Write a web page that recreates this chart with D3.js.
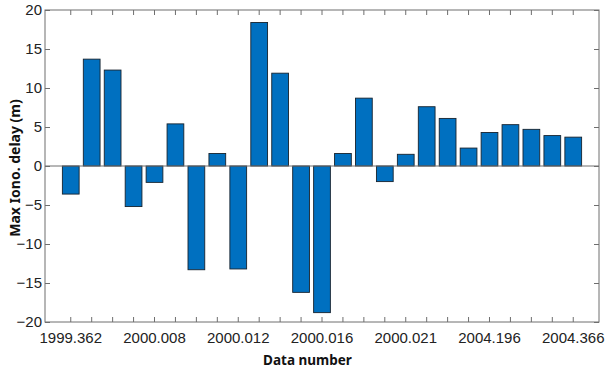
<!DOCTYPE html>
<html>
<head>
<meta charset="utf-8">
<script src="https://cdn.jsdelivr.net/npm/d3@7"></script>
<style>
  body { margin: 0; background: #fff; }
  svg { font-family: "Noto Sans", "Open Sans", sans-serif; }
</style>
</head>
<body>
<div id="chart"></div>
<script>
// data
var dataIndex = d3.range(1, 26);
var maxDelay = [-3.6, 13.7, 12.3, -5.2, -2.1, 5.4, -13.3, 1.6, -13.2, 18.4,
                11.9, -16.2, -18.8, 1.6, 8.7, -2.0, 1.5, 7.6, 6.1, 2.3,
                4.3, 5.3, 4.7, 3.9, 3.7];
var xTickLabels = ["1999.362", "", "", "", "2000.008", "", "", "", "2000.012", "", "", "",
                   "2000.016", "", "", "", "2000.021", "", "", "", "2004.196", "", "", "", "2004.366"];
var yTicks = [-20, -15, -10, -5, 0, 5, 10, 15, 20];

var W = 606, H = 368;
var margin = {top: 10, right: 7, bottom: 46, left: 45},
    width = W - margin.left - margin.right,
    height = H - margin.top - margin.bottom;

var svg = d3.select("#chart")
  .append("svg")
    .attr("width", W)
    .attr("height", H)
  .append("g")
    .attr("transform", "translate(" + margin.left + "," + margin.top + ")");

var x = d3.scaleBand()
  .domain(dataIndex)
  .range([0, width])
  .paddingInner(0.2)
  .paddingOuter(0.83);

var y = d3.scaleLinear()
  .domain([-20, 20])
  .range([height, 0]);

var boxColor = "#6e6e6e";

// bars
svg.selectAll("rect.bar")
  .data(maxDelay)
  .enter()
  .append("rect")
    .attr("class", "bar")
    .attr("x", function(d, i) { return x(dataIndex[i]); })
    .attr("y", function(d) { return y(Math.max(0, d)); })
    .attr("width", x.bandwidth())
    .attr("height", function(d) { return Math.abs(y(d) - y(0)); })
    .attr("fill", "#0070c0")
    .attr("stroke", "#17232e")
    .attr("stroke-width", 0.9);

// zero line
svg.append("line")
  .attr("x1", 0).attr("x2", width)
  .attr("y1", y(0)).attr("y2", y(0))
  .attr("stroke", boxColor)
  .attr("stroke-width", 1);

// axes (ticks pointing inward)
function styleAxis(g) {
  g.select(".domain").remove();
  g.selectAll(".tick line").attr("stroke", boxColor);
  g.selectAll(".tick text")
    .attr("fill", "#222")
    .style("font-size", "15px");
}

svg.append("g")
  .attr("transform", "translate(0," + height + ")")
  .call(d3.axisBottom(x)
    .tickSize(-5)
    .tickPadding(10)
    .tickFormat(function(d, i) { return xTickLabels[i]; }))
  .call(styleAxis);

svg.append("g")
  .call(d3.axisTop(x).tickSize(-5).tickFormat(""))
  .call(styleAxis);

svg.append("g")
  .call(d3.axisLeft(y)
    .tickValues(yTicks)
    .tickSize(-5)
    .tickPadding(3))
  .call(styleAxis);

svg.append("g")
  .attr("transform", "translate(" + width + ",0)")
  .call(d3.axisRight(y).tickValues(yTicks).tickSize(-5).tickFormat(""))
  .call(styleAxis);

// box
svg.append("rect")
  .attr("width", width)
  .attr("height", height)
  .attr("fill", "none")
  .attr("stroke", boxColor)
  .attr("stroke-width", 1);

// axis titles
svg.append("text")
  .attr("x", width / 2 - 14.5)
  .attr("y", height + 43)
  .attr("text-anchor", "middle")
  .attr("font-weight", "bold")
  .style("font-size", "13.5px")
  .attr("fill", "#111")
  .text("Data number");

svg.append("text")
  .attr("transform", "translate(" + (-25) + "," + (y(0) + 2) + ") rotate(-90)")
  .attr("text-anchor", "middle")
  .attr("font-weight", "bold")
  .style("font-size", "14px")
  .attr("fill", "#111")
  .text("Max Iono. delay (m)");
</script>
</body>
</html>
